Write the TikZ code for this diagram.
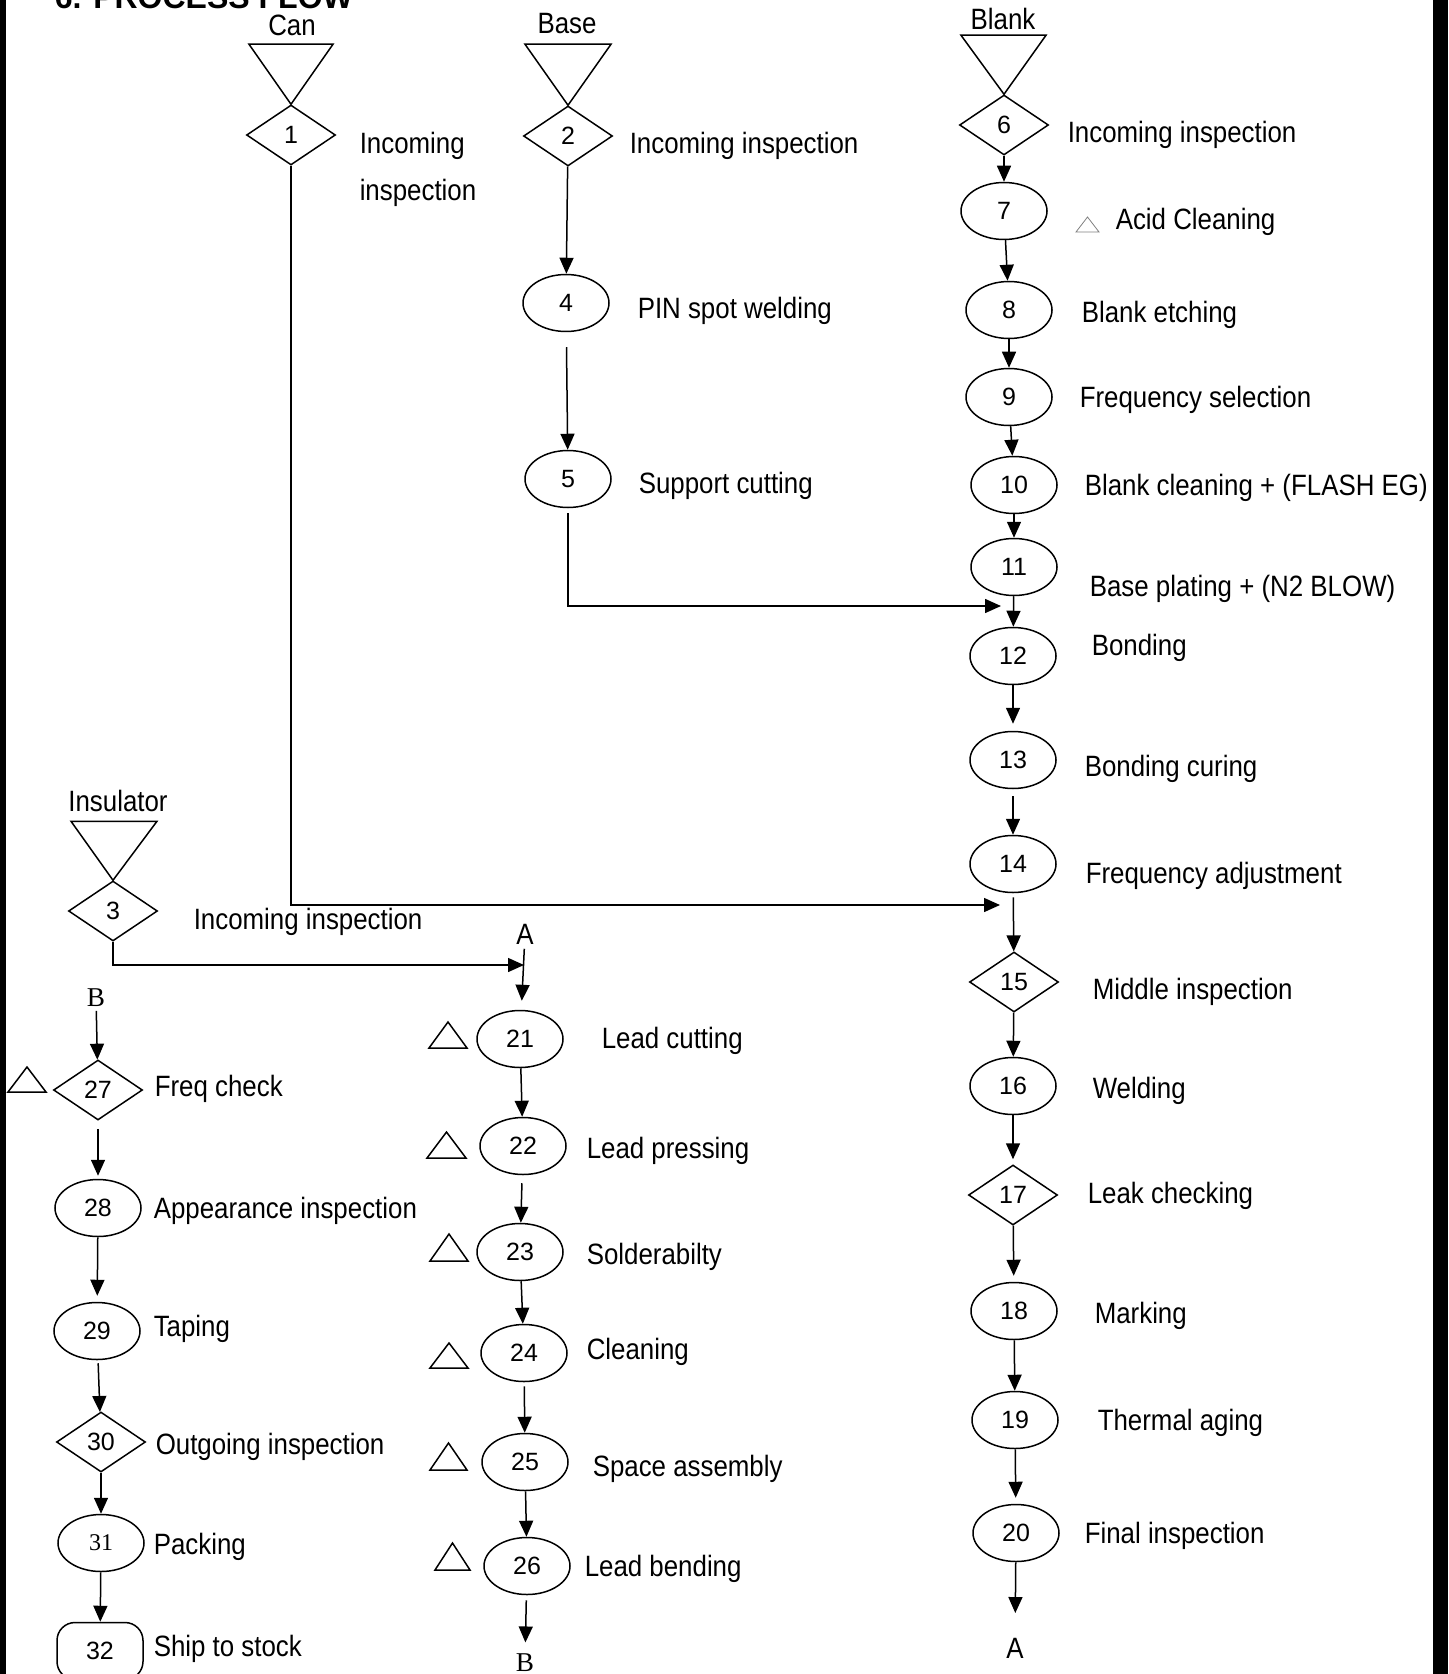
\documentclass[tikz,border=0pt]{standalone}
\usepackage{fontspec}
\setmainfont{Liberation Sans}
\newfontfamily\narrowfont{Liberation Sans}[FakeStretch=0.88]
\newfontfamily\timesfont{Liberation Serif}
\usetikzlibrary{shapes.geometric,arrows.meta,calc}

\newcommand\lblfont{\narrowfont\fontsize{14.7}{17}\selectfont}
\newcommand\numfont{\fontsize{12.5}{14}\selectfont}

\begin{document}
\begin{tikzpicture}[x=0.5pt, y=-0.5pt, line width=0.75pt,
  proc/.style = {draw, ellipse, minimum width=43pt, minimum height=28.5pt, inner sep=0, font=\numfont},
  insp/.style = {draw, diamond, minimum width=44.5pt, minimum height=30pt, inner sep=0, font=\numfont},
  txt/.style = {anchor=base west, inner sep=0, font=\lblfont},
  src/.style = {anchor=base, inner sep=0, font=\lblfont},
  arr/.style = {-{Triangle[length=8pt,width=7pt]}}]
  \useasboundingbox (0,0) rectangle (1448,1674);
  \fill (0,0) rectangle (6,1674);
  \fill (1433,0) rectangle (1448,1674);

  \node[anchor=base west, inner sep=0, font=\bfseries\fontsize{16}{18}\selectfont] (title) at (54,9) {6. PROCESS FLOW};

  % raw materials
  \node[src] (can) at (292,36) {Can};
  \node[src] (base) at (567,34) {Base};
  \node[src] (blank) at (1003,30) {Blank};
  \node[src] (insul) at (118,811) {Insulator};

  \node[insp] (n1) at (291,135) {1};
  \node[insp] (n2) at (568,136) {2};
  \node[insp] (n3) at (113,911) {3};
  \node[insp] (n6) at (1004,125) {6};

  \draw (n1.north) -- ++(-42,-60) -- ++(84,0) -- cycle;
  \draw (n2.north) -- ++(-43,-61) -- ++(86,0) -- cycle;
  \draw (n6.north) -- ++(-43,-59) -- ++(85,0) -- cycle;
  \draw (n3.north) -- ++(-42,-59) -- ++(86,0) -- cycle;

  \node[txt] (l1) at (359,154) {Incoming};
  \node[txt] (l1b) at (359,201) {inspection};
  \node[txt] (l2) at (629,154) {Incoming inspection};
  \node[txt] (l3) at (193,929) {Incoming inspection};
  \node[txt] (l6) at (1067,143) {Incoming inspection};

  % base line
  \node[proc] (n4) at (566,303) {4};
  \node[proc] (n5) at (568,479) {5};
  \node[txt] (l4) at (637,319) {PIN spot welding};
  \node[txt] (l5) at (638,493) {Support cutting};

  % blank line
  \node[proc] (n7) at (1004,211) {7};
  \node[proc] (n8) at (1009,310) {8};
  \node[proc] (n9) at (1009,397) {9};
  \node[proc] (n10) at (1014,485) {10};
  \node[proc] (n11) at (1014,567) {11};
  \node[proc] (n12) at (1013,656) {12};
  \node[proc] (n13) at (1013,760) {13};
  \node[proc] (n14) at (1013,864) {14};
  \node[insp] (n15) at (1014,982) {15};
  \node[proc] (n16) at (1013,1086) {16};
  \node[insp] (n17) at (1013,1195) {17};
  \node[proc] (n18) at (1014,1311) {18};
  \node[proc] (n19) at (1015,1420) {19};
  \node[proc] (n20) at (1016,1533) {20};

  \draw[line width=0.4pt, gray] (1076,232) -- (1099,232) -- (1087.5,217) -- cycle;
  \node[txt] (l7) at (1115,230) {Acid Cleaning};
  \node[txt] (l8) at (1081,323) {Blank etching};
  \node[txt] (l9) at (1079,408) {Frequency selection};
  \node[txt] (l10) at (1084,495) {Blank cleaning + (FLASH EG)};
  \node[txt] (l11) at (1089,596) {Base plating + (N2 BLOW)};
  \node[txt] (l12) at (1091,655) {Bonding};
  \node[txt] (l13) at (1084,776) {Bonding curing};
  \node[txt] (l14) at (1085,883) {Frequency adjustment};
  \node[txt] (l15) at (1092,999) {Middle inspection};
  \node[txt] (l16) at (1092,1098) {Welding};
  \node[txt] (l17) at (1087,1203) {Leak checking};
  \node[txt] (l18) at (1094,1323) {Marking};
  \node[txt] (l19) at (1097,1430) {Thermal aging};
  \node[txt] (l20) at (1084,1543) {Final inspection};

  % lead line
  \node[src] (a1) at (525,944) {A};
  \node[proc] (n21) at (520,1039) {21};
  \node[proc] (n22) at (523,1146) {22};
  \node[proc] (n23) at (520,1252) {23};
  \node[proc] (n24) at (524,1353) {24};
  \node[proc] (n25) at (525,1462) {25};
  \node[proc] (n26) at (527,1566) {26};
  \node[anchor=base, inner sep=0, font=\timesfont\fontsize{13.6}{15}\selectfont] (b1) at (525,1671) {B};

  \draw (429,1048) -- ++(38,0) -- ++(-19,-26) -- cycle;
  \draw (427,1158) -- ++(39,0) -- ++(-19.5,-26) -- cycle;
  \draw (430,1261) -- ++(38,0) -- ++(-19,-27) -- cycle;
  \draw (430,1368) -- ++(38,0) -- ++(-19,-25) -- cycle;
  \draw (430,1470) -- ++(37,0) -- ++(-18.5,-27) -- cycle;
  \draw (435,1570) -- ++(35,0) -- ++(-17.5,-27) -- cycle;

  \node[txt] (l21) at (601,1048) {Lead cutting};
  \node[txt] (l22) at (586,1158) {Lead pressing};
  \node[txt] (l23) at (586,1264) {Solderabilty};
  \node[txt] (l24) at (586,1359) {Cleaning};
  \node[txt] (l25) at (592,1476) {Space assembly};
  \node[txt] (l26) at (584,1576) {Lead bending};

  % final line
  \node[anchor=base, inner sep=0, font=\timesfont\fontsize{13.6}{15}\selectfont] (b2) at (96,1006) {B};
  \node[insp] (n27) at (98,1090) {27};
  \node[proc] (n28) at (98,1208) {28};
  \node[proc] (n29) at (97,1331) {29};
  \node[insp] (n30) at (101,1442) {30};
  \node[proc, font=\timesfont\fontsize{12}{14}\selectfont] (n31) at (101,1543) {31};
  \node[draw, rounded corners=9pt, minimum width=43pt, minimum height=28.5pt, inner sep=0, font=\numfont] (n32) at (100,1651) {32};
  \node[src] (a2) at (1015,1658) {A};

  \draw (8,1092) -- ++(38,0) -- ++(-19,-25) -- cycle;

  \node[txt] (l27) at (154,1096) {Freq check};
  \node[txt] (l28) at (153,1218) {Appearance inspection};
  \node[txt] (l29) at (153,1336) {Taping};
  \node[txt] (l30) at (155,1454) {Outgoing inspection};
  \node[txt] (l31) at (153,1554) {Packing};
  \node[txt] (l32) at (153,1656) {Ship to stock};

  % joins
  \coordinate (j11) at (1001,606);
  \coordinate (j14) at (1000,905);
  \coordinate (jA) at (524,965);

  \draw[arr] (n1.south) |- (j14);
  \draw[arr] (n2) -- (n4);
  \draw[arr, shorten <=7.5pt] (n4) -- (n5);
  \draw[arr, shorten <=2.5pt] (n5.south) |- (j11);
  \draw[arr] (n3.south) |- (jA);

  \draw[arr] (n6) -- (n7);
  \draw[arr] (n7) -- (n8);
  \draw[arr] (n8) -- (n9);
  \draw[arr] (n9) -- (n10);
  \draw[arr] (n10) -- (n11);
  \draw[arr] (n11) -- (n12);
  \draw[arr, shorten >=3.5pt] (n12) -- (n13);
  \draw[arr, shorten <=3.5pt] (n13) -- (n14);
  \draw[arr, shorten <=2pt] (n14) -- (n15);
  \draw[arr] (n15) -- (n16);
  \draw[arr, shorten >=2.5pt] (n16) -- (n17);
  \draw[arr, shorten >=3pt] (n17) -- (n18);
  \draw[arr] (n18) -- (n19);
  \draw[arr, shorten >=3pt] (n19) -- (n20);
  \draw[arr, shorten >=12pt] (n20) -- (a2);

  \draw[arr, shorten <=2pt, shorten >=4.5pt] (a1) -- (n21);
  \draw[arr] (n21) -- (n22);
  \draw[arr, shorten <=4pt] (n22) -- (n23);
  \draw[arr] (n23) -- (n24);
  \draw[arr, shorten <=2pt] (n24) -- (n25);
  \draw[arr] (n25) -- (n26);
  \draw[arr, shorten <=2.5pt, shorten >=5pt] (n26) -- (b1);

  \draw[arr, shorten <=2pt] (b2) -- (n27);
  \draw[arr, shorten <=4pt, shorten >=1.5pt] (n27) -- (n28);
  \draw[arr, shorten >=3pt] (n28) -- (n29);
  \draw[arr, shorten <=1.5pt] (n29) -- (n30);
  \draw[arr] (n30) -- (n31);
  \draw[arr] (n31) -- (n32);
\end{tikzpicture}
\end{document}
